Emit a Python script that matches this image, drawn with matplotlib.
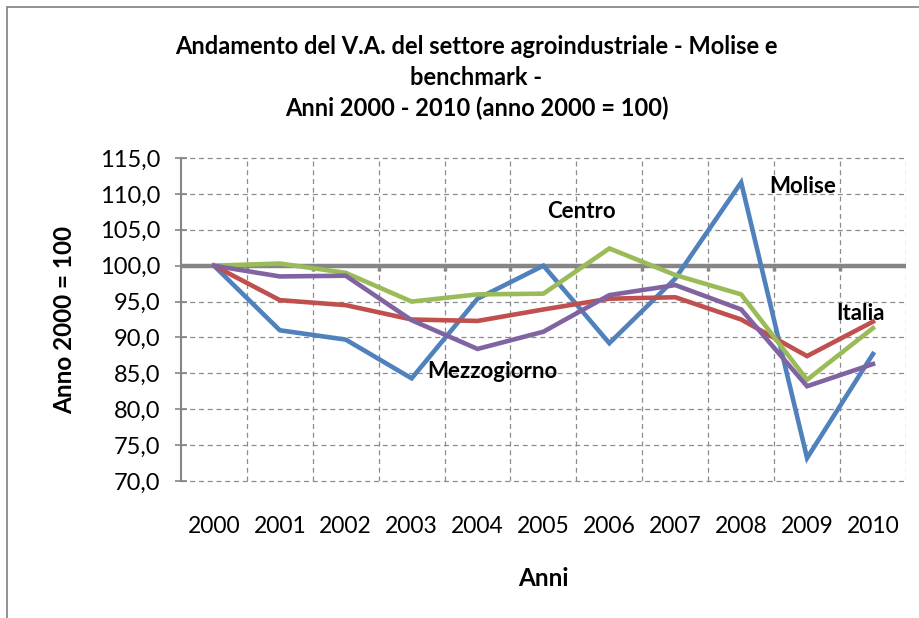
import matplotlib
matplotlib.use("Agg")
import matplotlib.pyplot as plt
from matplotlib.ticker import FuncFormatter
from matplotlib.patches import Rectangle

plt.rcParams['font.family'] = ['Lato', 'DejaVu Sans']

anni = ['2000', '2001', '2002', '2003', '2004', '2005', '2006', '2007', '2008', '2009', '2010']
molise = [100, 91.0, 89.7, 84.3, 95.4, 100.0, 89.2, 98.2, 111.6, 73.2, 87.7]
centro = [100, 100.3, 99.0, 95.0, 96.0, 96.1, 102.4, 98.7, 96.0, 84.1, 91.3]
italia = [100, 95.2, 94.5, 92.5, 92.3, 93.9, 95.4, 95.6, 92.5, 87.4, 92.2]
mezzogiorno = [100, 98.5, 98.6, 92.4, 88.4, 90.8, 95.9, 97.3, 93.9, 83.2, 86.3]

x = list(range(len(anni)))
grey = '#868686'

fig = plt.figure(figsize=(9.2, 6.18), dpi=100)
fig.patches.append(Rectangle((0.008, -0.01), 1.1, 0.998, transform=fig.transFigure,
                             fill=False, edgecolor='#7f7f7f', lw=1.2))
ax = fig.add_axes([0.1967, 0.2217, 0.788, 0.5226])

ax.plot(x, molise, color='#4F81BD', lw=3.3, solid_joinstyle='miter', zorder=4)
ax.plot(x, italia, color='#C0504D', lw=3.3, solid_joinstyle='miter', zorder=4)
ax.plot(x, centro, color='#9BBB59', lw=3.3, solid_joinstyle='miter', zorder=4)
ax.plot(x, mezzogiorno, color='#8064A2', lw=3.3, solid_joinstyle='miter', zorder=4)

# category axis crossing at 100
ax.axhline(100, color=grey, lw=3.2, zorder=3)
bounds = [i - 0.5 for i in range(len(anni) + 1)]
ax.vlines(bounds[1:-1], 99.3, 100, color=grey, lw=2.5, zorder=3)

ax.set_xlim(-0.5, len(anni) - 0.5)
ax.set_ylim(70, 115)
ax.set_yticks(range(70, 116, 5))
ax.yaxis.set_major_formatter(FuncFormatter(lambda v, p: ('%.1f' % v).replace('.', ',')))
ax.set_xticks(x)
ax.set_xticklabels(anni)
ax.set_xticks(bounds[1:], minor=True)
ax.tick_params(axis='x', which='both', length=0, labelsize=16.5, pad=25)
ax.tick_params(axis='y', direction='inout', length=8, width=1.2, color=grey,
               labelsize=17, pad=11)

ax.grid(True, axis='y', which='major', ls=(0, (4, 3)), color='#8c8c8c', lw=0.9, clip_on=False)
ax.grid(True, axis='x', which='minor', ls=(0, (4, 3)), color='#8c8c8c', lw=0.9)
for s in ['top', 'right', 'bottom']:
    ax.spines[s].set_visible(False)
ax.spines['left'].set_color(grey)
ax.spines['left'].set_linewidth(1.5)

ax.text(8.42, 111.0, 'Molise', fontsize=16, fontweight='bold', ha='left', va='center')
ax.text(5.06, 107.6, 'Centro', fontsize=16, fontweight='bold', ha='left', va='center')
ax.text(9.45, 93.4, 'Italia', fontsize=16, fontweight='bold', ha='left', va='center')
ax.text(3.24, 85.2, 'Mezzogiorno', fontsize=16, fontweight='bold', ha='left', va='center')

ax.set_xlabel('Anni', fontsize=17.5, fontweight='bold', labelpad=22)
ax.set_ylabel('Anno 2000 = 100', fontsize=17.5, fontweight='bold', labelpad=17)

fig.text(0.518, 0.924, 'Andamento del V.A. del settore agroindustriale - Molise e',
         fontsize=17, fontweight='bold', ha='center', va='center')
fig.text(0.518, 0.875, 'benchmark -', fontsize=17, fontweight='bold', ha='center', va='center')
fig.text(0.518, 0.825, 'Anni 2000 - 2010 (anno 2000 = 100)', fontsize=17, fontweight='bold',
         ha='center', va='center')

fig.savefig('out.png', dpi=100)
